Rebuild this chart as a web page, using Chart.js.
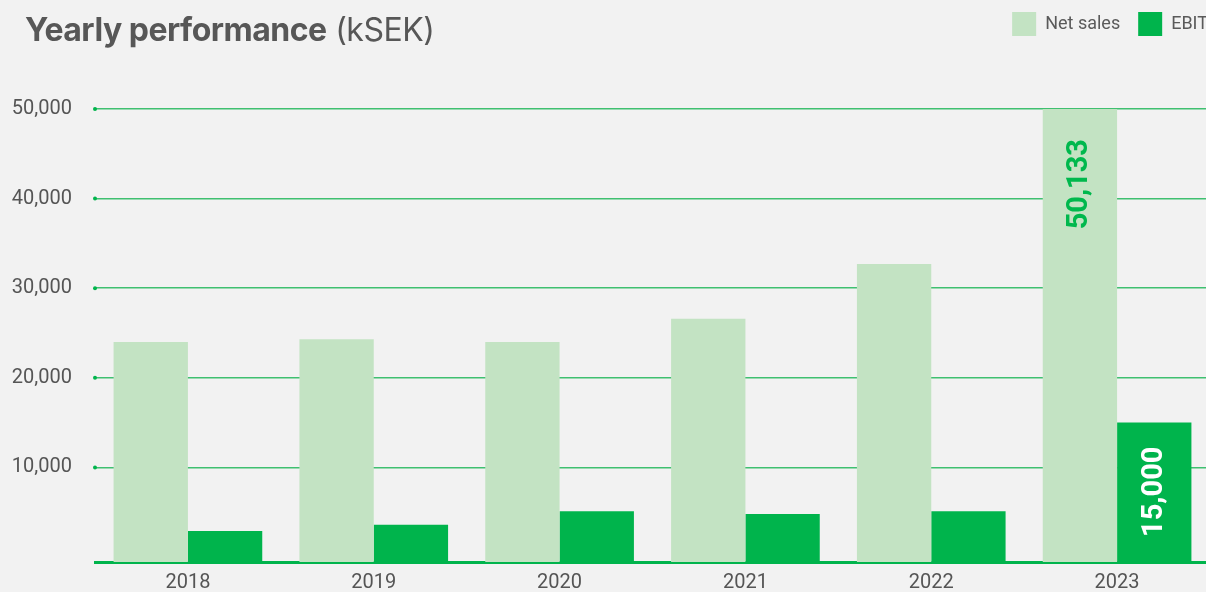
<!DOCTYPE html>
<html>
<head>
<meta charset="utf-8">
<script src="https://cdn.jsdelivr.net/npm/chart.js@4.4.1/dist/chart.umd.min.js"></script>
<style>
  html,body{margin:0;padding:0;background:#f2f2f2;overflow:hidden;}
  #wrap{position:relative;width:1216px;height:604px;}
  #title{position:absolute;left:25px;top:10px;font-family:Inter,"Noto Sans",sans-serif;font-size:32px;color:#575757;letter-spacing:-0.5px;}
  #title b{font-weight:700;}
</style>
</head>
<body>
<div id="wrap">
  <div id="title"><b>Yearly performance</b> (kSEK)</div>
  <canvas id="chart" width="1216" height="604"></canvas>
</div>
<script>
// DATA
const years = ['2018','2019','2020','2021','2022','2023'];
const netSales = [24000, 24300, 24000, 26600, 32700, 50133];
const ebit = [2900, 3600, 5100, 4800, 5100, 15000];
const yTicks = [10000, 20000, 30000, 40000, 50000];
const showLabelAt = 5; // only 2023 gets a value label

const fmt = v => v.toLocaleString('en-US');

// move the legend up into the title row and a bit to the right
const legendShift = {
  id:'legendShift',
  afterLayout(chart){
    const lg = chart.legend;
    lg.top -= 63; lg.bottom -= 63;
    lg.left += 16; lg.right += 16;
  }
};

// dots at the left end of each grid line
const gridDots = {
  id:'gridDots',
  afterDraw(chart){
    const {ctx, chartArea, scales} = chart;
    ctx.save();
    ctx.fillStyle = '#00b44c';
    yTicks.forEach(v=>{
      const y = scales.y.getPixelForValue(v);
      ctx.beginPath();
      ctx.arc(chartArea.left, y, 2, 0, Math.PI*2);
      ctx.fill();
    });
    ctx.restore();
  }
};

// rotated value labels inside the 2023 bars
const barLabels = {
  id:'barLabels',
  afterDatasetsDraw(chart){
    const {ctx, chartArea} = chart;
    ctx.save();
    ctx.font = 'bold 29px Roboto';
    ctx.textAlign = 'right';
    ctx.textBaseline = 'middle';
    chart.data.datasets.forEach((ds,i)=>{
      const bar = chart.getDatasetMeta(i).data[showLabelAt];
      const top = Math.max(bar.y, chartArea.top);
      ctx.save();
      ctx.translate(bar.x, top + ds.labelOffset);
      ctx.rotate(-Math.PI/2);
      ctx.fillStyle = ds.labelColor;
      ctx.fillText(fmt(ds.data[showLabelAt]), 0, 0);
      ctx.restore();
    });
    ctx.restore();
  }
};

new Chart(document.getElementById('chart'),{
  type:'bar',
  data:{
    labels:years,
    datasets:[
      {label:'Net sales', data:netSales, backgroundColor:'#c3e3c3', base:-560, labelColor:'#00b84d', labelOffset:30},
      {label:'EBIT', data:ebit, backgroundColor:'#00b44c', base:-560, labelColor:'#ffffff', labelOffset:24}
    ]
  },
  options:{
    responsive:false,
    animation:false,
    layout:{padding:{top:57,right:6,left:0,bottom:0}},
    datasets:{bar:{categoryPercentage:0.8, barPercentage:1.0}},
    plugins:{
      legend:{
        position:'top',
        align:'end',
        labels:{
          boxWidth:24, boxHeight:24,
          color:'#5a5a5a',
          font:{family:'Roboto', size:18},
          padding:18
        }
      },
      tooltip:{enabled:false}
    },
    scales:{
      x:{
        grid:{display:false, drawTicks:false},
        border:{color:'#00b44c', width:3},
        ticks:{color:'#555', font:{family:'Roboto', size:20}, padding:9}
      },
      y:{
        min:-560, max:50000,
        afterBuildTicks(scale){ scale.ticks = yTicks.map(v=>({value:v})); },
        afterFit(scale){ scale.width = 95; },
        grid:{color:'#3fc070', lineWidth:1.5, drawTicks:false},
        border:{display:false},
        ticks:{color:'#555', font:{family:'Roboto', size:20}, padding:23, callback:v=>fmt(v)}
      }
    }
  },
  plugins:[legendShift, gridDots, barLabels]
});
</script>
</body>
</html>
